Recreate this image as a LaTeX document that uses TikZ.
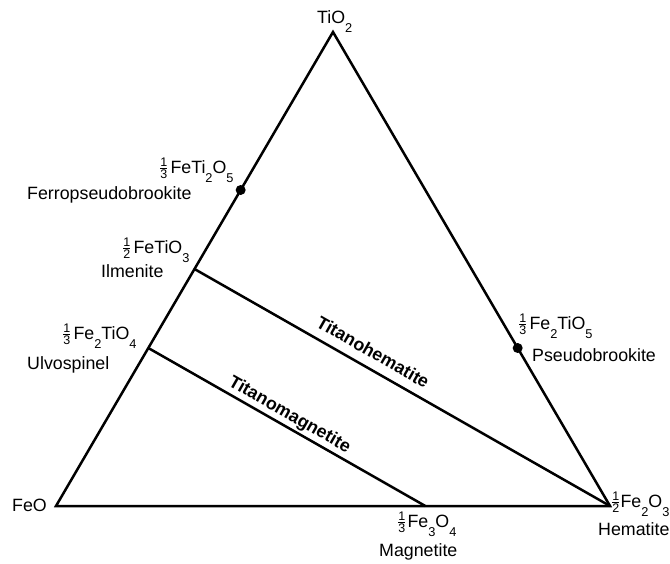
\documentclass[tikz,border=0pt]{standalone}
\usepackage{amsmath}
\usepackage{fontspec}
\setmainfont{Liberation Sans}
\usetikzlibrary{calc}
\newcommand{\sbs}[1]{\raisebox{-9pt}{\fontsize{12.8}{12.8}\selectfont #1}}
\newcommand{\fra}[2]{$\frac{\text{#1}}{\text{#2}}$}
\begin{document}
\begin{tikzpicture}[x=1pt,y=-1pt,
  lbl/.style={inner sep=0pt, font=\fontsize{17.8}{20}\selectfont},
  blbl/.style={inner sep=0pt, font=\fontsize{17.8}{20}\selectfont\bfseries},
  edge/.style={line width=2.5pt, line join=miter},
  dotmark/.style={circle, fill=black, inner sep=0pt, minimum size=10pt}]
\useasboundingbox (0,0) rectangle (670,563);
\coordinate (feo) at (56,506);
\coordinate (hem) at (610,506);
\coordinate (tio) at (333,32);
\coordinate (ilm) at ($(feo)!0.5!(tio)$);
\coordinate (ulv) at ($(feo)!1/3!(tio)$);
\coordinate (fpb) at ($(feo)!2/3!(tio)$);
\coordinate (mag) at ($(feo)!2/3!(hem)$);
\coordinate (psb) at ($(hem)!1/3!(tio)$);
\draw[edge] (feo) -- (hem) -- (tio) -- cycle;
\draw[edge] (ilm) -- (hem);
\draw[edge] (ulv) -- (mag);
\node[dotmark] (dfpb) at (fpb) {};
\node[dotmark] (dpsb) at (psb) {};
% labels
\node[lbl, anchor=base west] (ltio) at (317,23) {TiO\sbs{2}};
\node[lbl, anchor=base west] (lfpbf) at (159,173) {\fra{1}{3}\kern2pt FeTi\sbs{2}O\sbs{5}};
\node[lbl, anchor=base west] (lfpb) at (27,199) {Ferropseudobrookite};
\node[lbl, anchor=base west] (lilmf) at (122,253) {\fra{1}{2}\kern2pt FeTiO\sbs{3}};
\node[lbl, anchor=base west] (lilm) at (101,277) {Ilmenite};
\node[lbl, anchor=base west] (lulvf) at (62,339) {\fra{1}{3}\kern2pt Fe\sbs{2}TiO\sbs{4}};
\node[lbl, anchor=base west] (lulv) at (27,369) {Ulvospinel};
\node[lbl, anchor=base west] (lpsbf) at (518,329) {\fra{1}{3}\kern2pt Fe\sbs{2}TiO\sbs{5}};
\node[lbl, anchor=base west] (lpsb) at (532,361) {Pseudobrookite};
\node[lbl, anchor=base west] (lfeo) at (12,511) {FeO};
\node[lbl, anchor=base west] (lmagf) at (397,527) {\fra{1}{3}\kern1pt Fe\sbs{3}O\sbs{4}};
\node[lbl, anchor=base west] (lmag) at (379,556) {Magnetite};
\node[lbl, anchor=base west] (lhemf) at (611,507) {\fra{1}{2}Fe\sbs{2}O\sbs{3}};
\node[lbl, anchor=base west] (lhem) at (598,535) {Hematite};
% series labels
\path (ilm) -- (hem) coordinate[pos=0.278] (thp);
\path (ulv) -- (mag) coordinate[pos=0.273] (tmp);
\node[blbl, rotate=-29.7, anchor=base west] (lth) at ($(thp)!10pt!90:(hem)$) {Titanohematite};
\node[blbl, rotate=-29.7, anchor=base west] (ltm) at ($(tmp)!7pt!90:(mag)$) {Titanomagnetite};
\end{tikzpicture}
\end{document}
